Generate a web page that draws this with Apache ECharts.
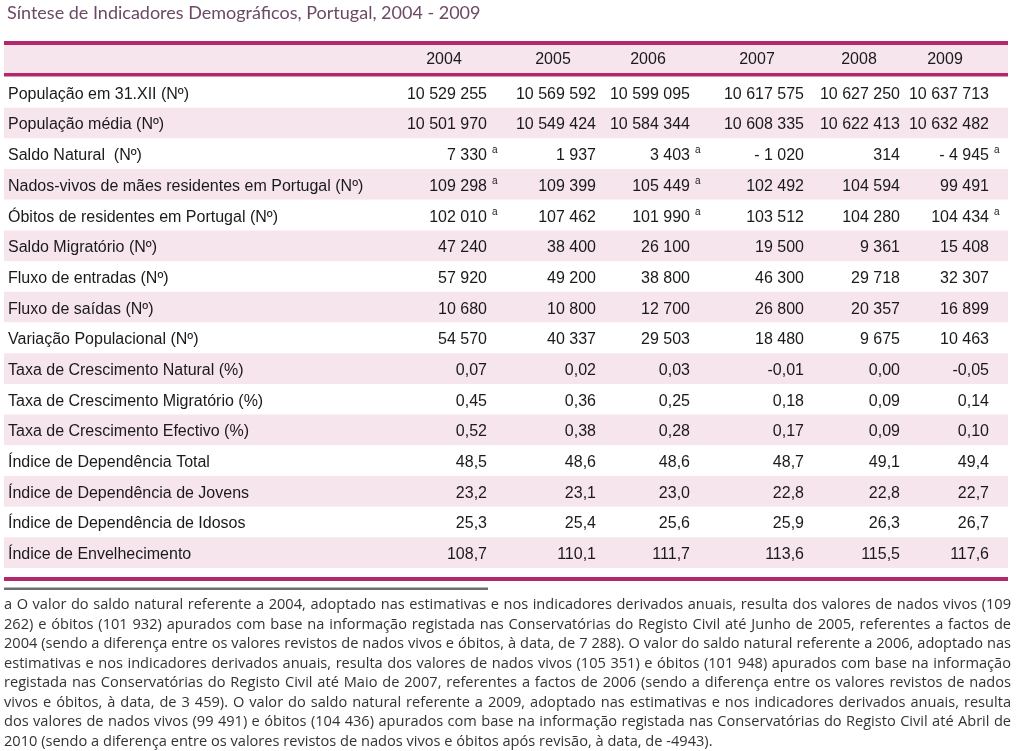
<!DOCTYPE html>
<html><head><meta charset="utf-8">
<script src="https://cdn.jsdelivr.net/npm/echarts@6/dist/echarts.min.js"></script>
<style>html,body{margin:0;padding:0;background:#fff}#c{width:1024px;height:751px}</style>
</head><body><div id="c"></div>
<script>
// ---------- DATA ----------
var title = "Síntese de Indicadores Demográficos, Portugal, 2004 - 2009";
var years = ["2004", "2005", "2006", "2007", "2008", "2009"];
var rowLabels = [
  "População em 31.XII (Nº)",
  "População média (Nº)",
  "Saldo Natural  (Nº)",
  "Nados-vivos de mães residentes em Portugal (Nº)",
  "Óbitos de residentes em Portugal (Nº)",
  "Saldo Migratório (Nº)",
  "Fluxo de entradas (Nº)",
  "Fluxo de saídas (Nº)",
  "Variação Populacional (Nº)",
  "Taxa de Crescimento Natural (%)",
  "Taxa de Crescimento Migratório (%)",
  "Taxa de Crescimento Efectivo (%)",
  "Índice de Dependência Total",
  "Índice de Dependência de Jovens",
  "Índice de Dependência de Idosos",
  "Índice de Envelhecimento"
];
var populacao31 = [10529255, 10569592, 10599095, 10617575, 10627250, 10637713];
var populacaoMedia = [10501970, 10549424, 10584344, 10608335, 10622413, 10632482];
var saldoNatural = [7330, 1937, 3403, -1020, 314, -4945];
var nadosVivos = [109298, 109399, 105449, 102492, 104594, 99491];
var obitos = [102010, 107462, 101990, 103512, 104280, 104434];
var saldoMigratorio = [47240, 38400, 26100, 19500, 9361, 15408];
var fluxoEntradas = [57920, 49200, 38800, 46300, 29718, 32307];
var fluxoSaidas = [10680, 10800, 12700, 26800, 20357, 16899];
var variacaoPop = [54570, 40337, 29503, 18480, 9675, 10463];
var taxaNatural = [0.07, 0.02, 0.03, -0.01, 0.00, -0.05];
var taxaMigratorio = [0.45, 0.36, 0.25, 0.18, 0.09, 0.14];
var taxaEfectivo = [0.52, 0.38, 0.28, 0.17, 0.09, 0.10];
var indDepTotal = [48.5, 48.6, 48.6, 48.7, 49.1, 49.4];
var indDepJovens = [23.2, 23.1, 23.0, 22.8, 22.8, 22.7];
var indDepIdosos = [25.3, 25.4, 25.6, 25.9, 26.3, 26.7];
var indEnvelhecimento = [108.7, 110.1, 111.7, 113.6, 115.5, 117.6];
// number of decimals per row
var rowDecimals = [0,0,0,0,0,0,0,0,0,2,2,2,1,1,1,1];
// footnote mark "a" per row / year
var saldoNaturalNotes = ["a", "", "a", "", "", "a"];
var nadosVivosNotes = ["a", "", "a", "", "", ""];
var obitosNotes = ["a", "", "a", "", "", "a"];
var footnoteLines = [
  "a O valor do saldo natural referente a 2004, adoptado nas estimativas e nos indicadores derivados anuais, resulta dos valores de nados vivos (109",
  "262) e óbitos (101 932) apurados com base na informação registada nas Conservatórias do Registo Civil até Junho de 2005, referentes a factos de",
  "2004 (sendo a diferença entre os valores revistos de nados vivos e óbitos, à data, de 7 288). O valor do saldo natural referente a 2006, adoptado nas",
  "estimativas e nos indicadores derivados anuais, resulta dos valores de nados vivos (105 351) e óbitos (101 948) apurados com base na informação",
  "registada nas Conservatórias do Registo Civil até Maio de 2007, referentes a factos de 2006 (sendo a diferença entre os valores revistos de nados",
  "vivos e óbitos, à data, de 3 459). O valor do saldo natural referente a 2009, adoptado nas estimativas e nos indicadores derivados anuais, resulta",
  "dos valores de nados vivos (99 491) e óbitos (104 436) apurados com base na informação registada nas Conservatórias do Registo Civil até Abril de",
  "2010 (sendo a diferença entre os valores revistos de nados vivos e óbitos após revisão, à data, de -4943)."
];

var tableValues = [populacao31, populacaoMedia, saldoNatural, nadosVivos, obitos, saldoMigratorio,
  fluxoEntradas, fluxoSaidas, variacaoPop, taxaNatural, taxaMigratorio, taxaEfectivo,
  indDepTotal, indDepJovens, indDepIdosos, indEnvelhecimento];
var emptyNotes = ["", "", "", "", "", ""];
var tableNotes = tableValues.map(function (_, i) {
  return i === 2 ? saldoNaturalNotes : i === 3 ? nadosVivosNotes : i === 4 ? obitosNotes : emptyNotes;
});

// ---------- LAYOUT ----------
var MAGENTA = '#b3286c', PINK = '#f7e5ed', TXT = '#1a1a1a';
var FONT = '"Liberation Sans", Arial, sans-serif';
var GRID_L = 4, GRID_R = 1008, GRID_T = 77, GRID_B = 568;
var colRightPx = [487, 596, 690, 804, 900, 989];
var headCenterPx = [444, 553, 648, 757, 859, 945];
var LABEL_X = 8;
var TEXT_DY = 2;

function fmtInt(v) {
  var s = String(Math.abs(Math.round(v))).replace(/\B(?=(\d{3})+(?!\d))/g, ' ');
  return v < 0 ? '- ' + s : s;
}
function fmtDec(v, d) {
  var s = Math.abs(v).toFixed(d).replace('.', ',');
  return (v < 0 ? '-' : '') + s;
}
function fmtCell(r, j) {
  var v = tableValues[r][j], d = rowDecimals[r];
  return d === 0 ? fmtInt(v) : fmtDec(v, d);
}

var chart = echarts.init(document.getElementById('c'), null, {renderer: 'canvas'});

// footnote justified words
var measure = document.createElement('canvas').getContext('2d');
var FN_FONT_SIZE = 14.6, FN_FONT = '"Open Sans", sans-serif';
measure.font = FN_FONT_SIZE + 'px ' + FN_FONT;
var fnLeft = 4, fnRight = 1011, fnTop = 605, fnLH = 19.5;
var fnGraphics = [];
footnoteLines.forEach(function (line, li) {
  var words = line.split(' ');
  var y = fnTop + li * fnLH;
  var last = li === footnoteLines.length - 1;
  var widths = words.map(function (w) { return measure.measureText(w).width; });
  var total = widths.reduce(function (a, b) { return a + b; }, 0);
  var gap = last ? measure.measureText(' ').width : (fnRight - fnLeft - total) / (words.length - 1);
  var x = fnLeft;
  words.forEach(function (w, k) {
    fnGraphics.push({type: 'text', x: x, y: y, silent: true,
      style: {text: w, fontSize: FN_FONT_SIZE, fontFamily: FN_FONT, fill: '#333333', verticalAlign: 'middle'}});
    x += widths[k] + gap;
  });
});

var graphics = [
  {type: 'text', x: 7, y: 13, silent: true,
   style: {text: title, fontSize: 18, fontFamily: 'Lato, "Open Sans", sans-serif', fill: '#6b4a66', verticalAlign: 'middle'}},
  {type: 'rect', shape: {x: GRID_L, y: 45, width: GRID_R - GRID_L, height: 28}, style: {fill: PINK}, silent: true},
  {type: 'rect', shape: {x: GRID_L, y: 41, width: GRID_R - GRID_L, height: 4}, style: {fill: MAGENTA}, silent: true},
  {type: 'rect', shape: {x: GRID_L, y: 73, width: GRID_R - GRID_L, height: 3.5}, style: {fill: MAGENTA}, silent: true},
  {type: 'rect', shape: {x: GRID_L, y: 577, width: GRID_R - GRID_L, height: 4}, style: {fill: MAGENTA}, silent: true},
  {type: 'rect', shape: {x: GRID_L, y: 587.5, width: 484, height: 2.5}, style: {fill: '#6e6e6e'}, silent: true}
];
years.forEach(function (yr, j) {
  graphics.push({type: 'text', x: headCenterPx[j], y: 60, silent: true,
    style: {text: yr, fontSize: 16, fontFamily: FONT, fill: TXT, align: 'center', verticalAlign: 'middle'}});
});
graphics = graphics.concat(fnGraphics);

var option = {
  animation: false,
  grid: {left: GRID_L, right: 1024 - GRID_R, top: GRID_T, bottom: 751 - GRID_B, containLabel: false},
  xAxis: {type: 'value', min: 0, max: GRID_R - GRID_L, show: false},
  yAxis: {
    type: 'category', inverse: true, data: rowLabels,
    axisLine: {show: false}, axisTick: {show: false},
    splitLine: {show: false},
    splitArea: {show: true, areaStyle: {color: ['#ffffff', PINK]}},
    axisLabel: {show: false}
  },
  graphic: graphics,
  series: [{
    type: 'custom', coordinateSystem: 'cartesian2d', clip: false, silent: true,
    data: rowLabels.map(function (_, i) { return [0, i]; }),
    encode: {x: 0, y: 1},
    renderItem: function (params, api) {
      var r = params.dataIndex;
      var children = [];
      var p0 = api.coord([0, r]);
      children.push({type: 'text', x: LABEL_X, y: p0[1] + TEXT_DY,
        style: {text: rowLabels[r], fontSize: 16, fontFamily: FONT, fill: TXT, align: 'left', verticalAlign: 'middle'}});
      for (var j = 0; j < years.length; j++) {
        var p = api.coord([colRightPx[j] - GRID_L, r]);
        children.push({type: 'text', x: p[0], y: p[1] + TEXT_DY,
          style: {text: fmtCell(r, j), fontSize: 16, fontFamily: FONT, fill: TXT, align: 'right', verticalAlign: 'middle'}});
        if (tableNotes[r][j]) {
          children.push({type: 'text', x: p[0] + 5, y: p[1] + TEXT_DY - 5,
            style: {text: tableNotes[r][j], fontSize: 10, fontFamily: FONT, fill: TXT, align: 'left', verticalAlign: 'middle'}});
        }
      }
      return {type: 'group', children: children};
    }
  }]
};
chart.setOption(option);
</script></body></html>
